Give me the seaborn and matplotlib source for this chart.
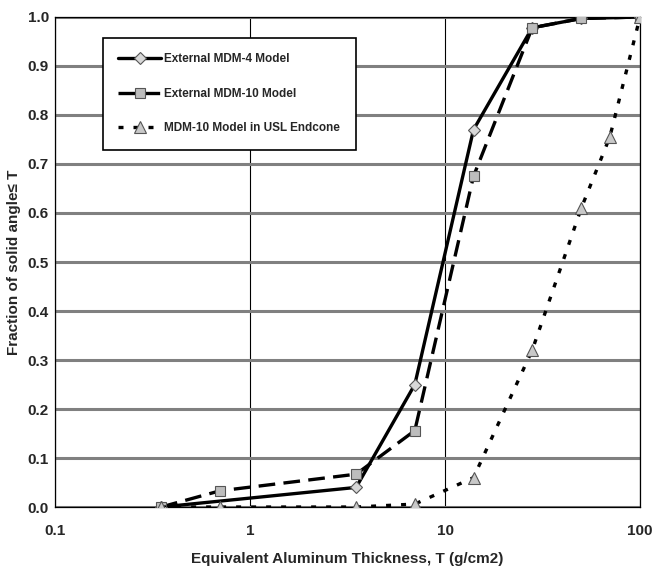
import numpy as np
import pandas as pd
import seaborn as sns
import matplotlib.pyplot as plt
from matplotlib.ticker import FixedLocator, NullFormatter

# values
thick_mdm4 = [0.35, 3.5, 7, 14, 28, 50, 100]
frac_mdm4 = [0.0, 0.04, 0.25, 0.77, 0.978, 0.997, 1.0]

thick_mdm10 = [0.35, 0.7, 3.5, 7, 14, 28, 50, 100]
frac_mdm10 = [0.0, 0.033, 0.067, 0.156, 0.675, 0.978, 0.997, 1.0]

thick_usl = [0.35, 0.7, 3.5, 7, 14, 28, 50, 70, 100]
frac_usl = [0.0, 0.0, 0.0, 0.006, 0.06, 0.32, 0.61, 0.755, 1.0]

labels = ["External MDM-4 Model", "External MDM-10 Model", "MDM-10 Model in USL Endcone"]
x_ticks = [0.1, 1, 10, 100]
x_ticklabels = ["0.1", "1", "10", "100"]

sns.set_style("white")
plt.rcParams['font.family'] = ['Liberation Sans Narrow', 'Liberation Sans', 'DejaVu Sans']
plt.rcParams['font.weight'] = 'bold'

fig = plt.figure(figsize=(6.52, 5.74), dpi=100)
ax = fig.add_axes([0.0844, 0.1167, 0.8972, 0.8537])

sns.lineplot(x=thick_mdm4, y=frac_mdm4, ax=ax, color="black", lw=2.4,
             marker="D", markersize=6, markerfacecolor="#d8d8d8",
             markeredgecolor="#555555", markeredgewidth=0.8, label=labels[0],
             zorder=3)
sns.lineplot(x=thick_mdm10, y=frac_mdm10, ax=ax, color="black", lw=2.4,
             marker="s", markersize=7, markerfacecolor="#bdbdbd",
             markeredgecolor="#555555", markeredgewidth=0.8, label=labels[1],
             dashes=(5, 2.5), zorder=4)
sns.lineplot(x=thick_usl, y=frac_usl, ax=ax, color="black", lw=2.4,
             marker="^", markersize=8, markerfacecolor="#c8c8c8",
             markeredgecolor="#555555", markeredgewidth=0.8, label=labels[2],
             dashes=(1.5, 3), zorder=5)

ax.set_xscale("log")
ax.set_xlim(0.1, 100)
ax.set_ylim(0, 1.0)
ax.set_xticks(x_ticks)
ax.set_xticklabels(x_ticklabels)
ax.xaxis.set_minor_locator(FixedLocator(
    [m * d for d in (0.1, 1, 10) for m in range(2, 10)]))
ax.xaxis.set_minor_formatter(NullFormatter())
ax.set_yticks(np.arange(0, 1.01, 0.1))
ax.set_yticklabels([f"{v:.1f}" for v in np.arange(0, 1.01, 0.1)])
ax.set_yticks(np.arange(0.05, 1.0, 0.1), minor=True)

ax.tick_params(axis="both", which="major", labelsize=11, length=5,
               direction="inout", width=0.8, color="#444444")
ax.tick_params(axis="both", which="minor", length=4, direction="in",
               width=0.8, color="#444444")
ax.tick_params(axis="x", pad=10)
ax.tick_params(axis="y", pad=2)

ax.yaxis.grid(True, which="major", color="#808080", lw=2.2)
ax.xaxis.grid(True, which="major", color="black", lw=0.8)
ax.set_axisbelow(True)
for s in ax.spines.values():
    s.set_color("black")
    s.set_linewidth(0.9)

ax.set_xlabel("Equivalent Aluminum Thickness, T (g/cm2)", fontsize=11,
              fontweight="bold", labelpad=10)
ax.set_ylabel("Fraction of solid angle≤ T", fontsize=11, fontweight="bold",
              labelpad=5)

leg = ax.legend(loc="upper left", bbox_to_anchor=(0.082, 0.957), frameon=True,
                fancybox=False, edgecolor="black", framealpha=1,
                fontsize=8.5, handlelength=3.6, labelspacing=1.9,
                borderpad=1.3, handletextpad=0.3, borderaxespad=0)
leg.get_frame().set_linewidth(1.2)
for t in leg.get_texts():
    t.set_fontweight("bold")

fig.savefig("out.png", dpi=100)
